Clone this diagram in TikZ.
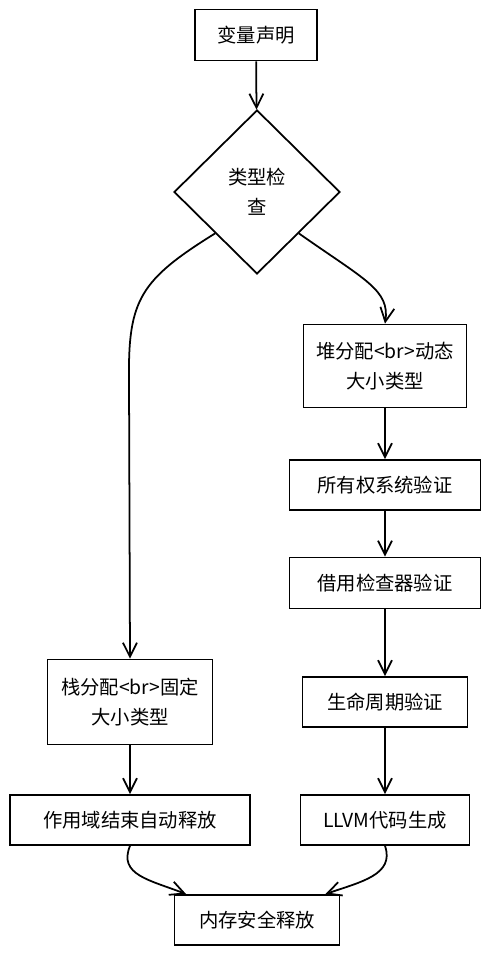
\documentclass[tikz,border=0pt]{standalone}
\usepackage{fontspec}
\setmainfont{Noto Sans CJK SC}
\usepackage{tikz}
\usetikzlibrary{shapes.geometric,arrows.meta}

\begin{document}
\begin{tikzpicture}[x=0.02cm, y=-0.02cm,
		font=\fontsize{11}{17}\selectfont,
		box/.style={draw, rectangle, line width=1pt, align=center, inner sep=2pt},
		flow/.style={line width=1pt, -{Straight Barb[length=2.8mm, width=2.8mm]}}]
			\useasboundingbox (0,0) rectangle (489,955);
			
			\node[box, minimum width=2.44cm, minimum height=1.02cm] (decl) at (256,35) {变量声明};
			\node[draw, diamond, line width=1pt, align=center, inner sep=0pt, minimum width=3.32cm, minimum height=3.28cm] (check) at (257,192) {类型检\\查};
			
			\node[box, minimum width=3.3cm, minimum height=1.7cm] (stack) at (130,702) {栈分配<br>固定\\大小类型};
			\node[box, minimum width=4.8cm, minimum height=1.0cm] (scope) at (130,820) {作用域结束自动释放};
			
			\node[box, minimum width=3.26cm, minimum height=1.66cm] (heap) at (385,366) {堆分配<br>动态\\大小类型};
			\node[box, minimum width=3.82cm, minimum height=1.0cm] (owner) at (385,485) {所有权系统验证};
			\node[box, minimum width=3.82cm, minimum height=1.02cm] (borrow) at (385,583) {借用检查器验证};
			\node[box, minimum width=3.3cm, minimum height=1.0cm] (life) at (385,702) {生命周期验证};
			\node[box, minimum width=3.38cm, minimum height=1.0cm] (llvm) at (385,820) {\textit{LLVM}代码生成};
			
			\node[box, minimum width=3.3cm, minimum height=1.0cm] (mem) at (257,920) {内存安全释放};
			
			\draw[flow] (decl) to (check);
			\draw[flow] (check.south west) .. controls (140,280) and (128,300) .. (129,380) -- (stack.north);
			\draw[flow] (check.south east) .. controls (365,280) and (390,290) .. (heap.north);
			\draw[flow] (stack) to (scope);
			\draw[flow] (heap) to (owner);
			\draw[flow] (owner) to (borrow);
			\draw[flow] (borrow) to (life);
			\draw[flow] (life) to (llvm);
			\draw[flow] (scope.south) .. controls (118,875) and (150,880) .. ([xshift=0.25cm]mem.north west);
			\draw[flow] (llvm.south) .. controls (395,875) and (360,882) .. ([xshift=-0.3cm]mem.north east);
		\end{tikzpicture}
\end{document}
